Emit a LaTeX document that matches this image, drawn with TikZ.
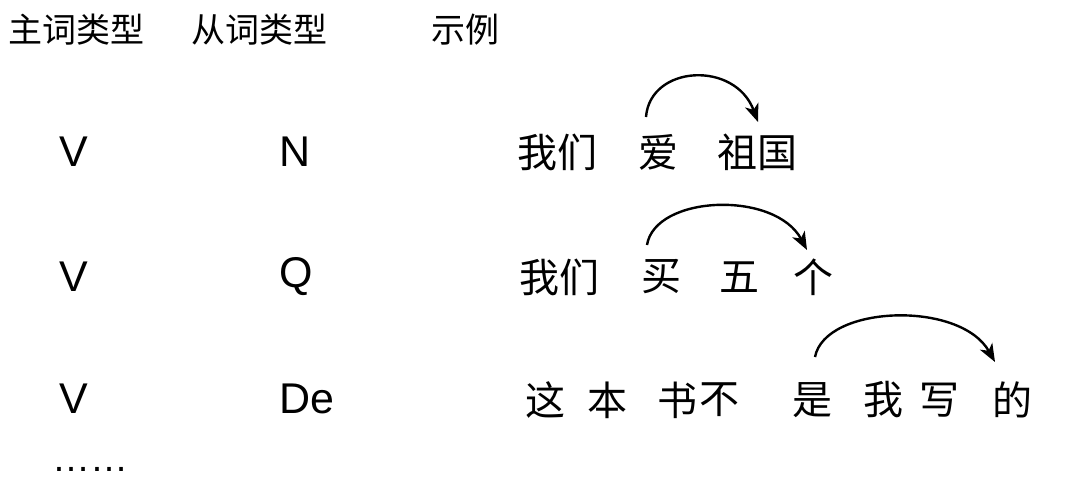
\documentclass[tikz,border=0pt]{standalone}
\usepackage{fontspec}
\setmainfont{Liberation Sans}
\newfontfamily\cjk{Noto Sans CJK SC}
\usetikzlibrary{arrows.meta}
\tikzset{
  hdr/.style={inner sep=0pt, font=\cjk\fontsize{34}{40}\selectfont},
  lat/.style={inner sep=0pt, font=\fontsize{43}{50}\selectfont},
  zh/.style={inner sep=0pt, font=\cjk\fontsize{40}{46}\selectfont},
  deparc/.style={line width=2.4pt, -{Stealth[length=18pt,width=14pt,inset=5pt]}}
}
\begin{document}
\begin{tikzpicture}[x=1pt,y=-1pt]
\useasboundingbox (0,0) rectangle (1074,480);
% header
\node[hdr] (h1) at (77,30) {主词类型};
\node[hdr] (h2) at (259,30) {从词类型};
\node[hdr] (h3) at (465,30) {示例};
% row 1
\node[lat] (v1) at (74,152) {V};
\node[lat] (n1) at (295,152) {N};
\node[zh] (women1) at (557,152) {我们};
\node[zh] (ai) at (658,152) {爱};
\node[zh] (zuguo) at (757,152) {祖国};
% row 2
\node[lat] (v2) at (74,277) {V};
\node[lat] (q2) at (296,277) {Q};
\node[zh] (women2) at (559,277) {我们};
\node[zh] (mai) at (661,277) {买};
\node[zh] (wu) at (739,277) {五};
\node[zh] (ge) at (813,277) {个};
% row 3
\node[lat] (v3) at (74,399) {V};
\node[lat] (de3) at (307,399) {De};
\node[zh] (zhe) at (545,400) {这};
\node[zh] (ben) at (607,400) {本};
\node[zh] (shu) at (677,400) {书};
\node[zh] (bu) at (719,400) {不};
\node[zh] (shi) at (812,400) {是};
\node[zh] (wo) at (883,400) {我};
\node[zh] (xie) at (939,400) {写};
\node[zh] (de) at (1012,400) {的};
% ellipsis
\node[inner sep=0pt, font=\fontsize{38}{40}\selectfont, anchor=base] (dots) at (90,471) {……};
% arcs
\draw[deparc] ([shift={(-12,-35)}]ai.center) .. controls (650,65) and (735,60) .. ([shift={(1,-30)}]zuguo.center);
\draw[deparc] ([shift={(-14,-32)}]mai.center) .. controls (655,195) and (775,190) .. ([shift={(-6,-27)}]ge.center);
\draw[deparc] ([shift={(3,-43)}]shi.center) .. controls (825,305) and (960,300) .. ([shift={(-17,-38)}]de.center);
\end{tikzpicture}
\end{document}
